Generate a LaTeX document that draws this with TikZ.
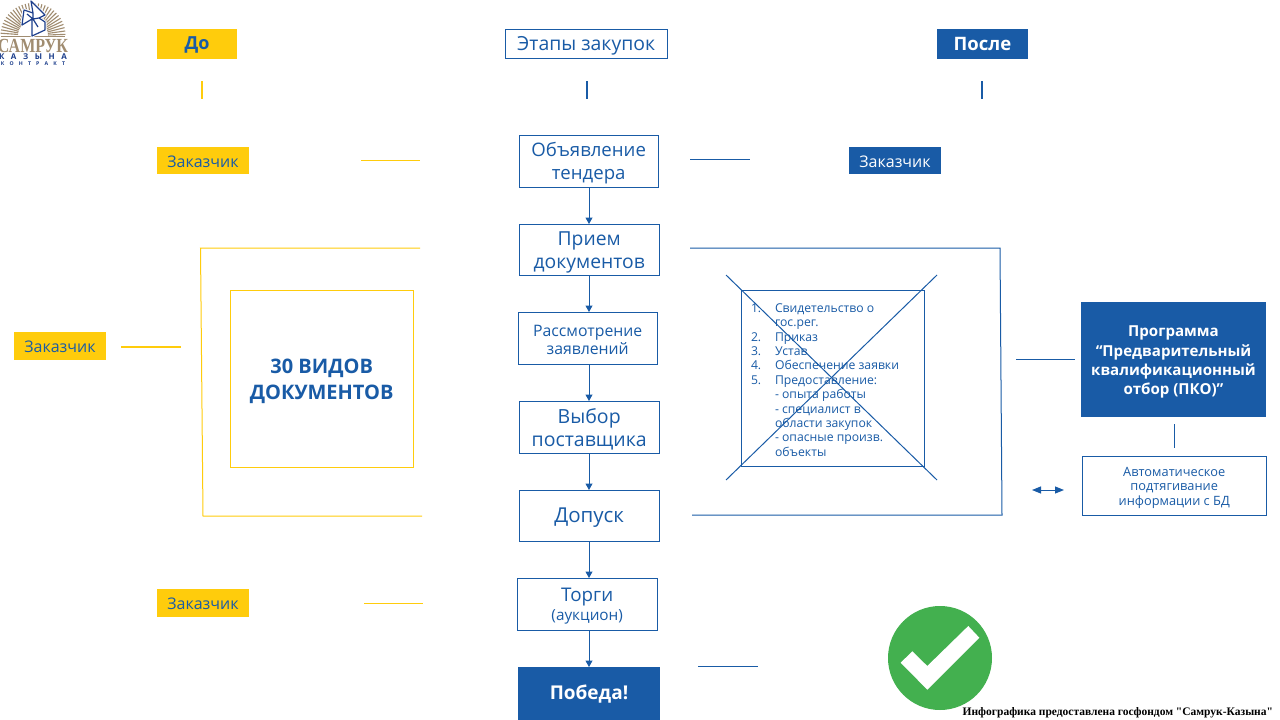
\documentclass[tikz,border=0pt]{standalone}
\usepackage{fontspec}
\setmainfont{Open Sans}
\newfontfamily\footfont{Liberation Serif}
\newfontfamily\logofont{Liberation Serif}
\usetikzlibrary{arrows.meta}
\definecolor{bluefill}{HTML}{195BA6}
\definecolor{yellowfill}{HTML}{FFCC0C}
\definecolor{tan}{HTML}{A08C70}
\definecolor{navy}{HTML}{1D3F8C}
\definecolor{grn}{HTML}{43B04F}
\newcommand{\fs}[1]{\fontsize{#1}{\dimexpr#1pt*12/10\relax}\selectfont}
\tikzset{
 x=1pt,y=-1pt,
 every node/.style={inner sep=0pt,outer sep=0pt,align=center},
 outbox/.style={draw=bluefill,line width=.9pt,text=bluefill,fill=white},
 solidblue/.style={fill=bluefill,text=white},
 solidyellow/.style={fill=yellowfill,text=bluefill},
 blueline/.style={draw=bluefill,line width=1pt},
 yellowline/.style={draw=yellowfill,line width=1pt},
 paleline/.style={draw=yellowfill,line width=1.4pt},
 flow/.style={blueline,-{Triangle[length=6.5pt,width=7pt]}},
 heavyline/.style={line width=1.6pt},
}
% outlined box: [text shift] name, style, x1,y1,x2,y2, text
\newcommand{\bx}[7][2pt]{%
 \node[#3,minimum width=#6pt-#4pt-.6pt,minimum height=#7pt-#5pt-.6pt] (#2) at ({(#4+#6)/2-.3},{(#5+#7)/2-.3}) {};
 \bxtext{#1}{#2}{#3}}
\newcommand{\bxtext}[4]{\node[#3,draw=none,fill=none] (#2text) at ([yshift=-#1]#2.center) {#4};}
% solid box: same, no trimming for a border
\newcommand{\sbx}[7][1pt]{%
 \node[#3,minimum width=#6pt-#4pt,minimum height=#7pt-#5pt] (#2) at ({(#4+#6)/2},{(#5+#7)/2}) {};
 \bxtext{#1}{#2}{#3}}
\begin{document}
\begin{tikzpicture}
\useasboundingbox (0,0) rectangle (1280,720);
\fill[white] (0,0) rectangle (1280,720);
% logo
\foreach \a in {2,8,...,178}{
 \draw[tan,line width=1.1pt] ({33+15*cos(\a)},{35.5-15*sin(\a)}) -- ({33+32.5*cos(\a)},{35.5-32.5*sin(\a)});
}
\draw[tan,line width=1.2pt] (1,36.8) -- (65,36.8);
\path[draw=white,line width=3pt,fill=white,line join=round]
 (31,1) -- (33,13) -- (24,10) -- (22,25) -- (32,19) -- (32,36) -- (45,30) -- (45,22) -- (39,18) -- (45,15) -- cycle;
\draw[navy,line width=1.2pt,line join=round]
 (31,1) -- (33,13) -- (24,10) -- (22,25) -- (32,19) -- (32,36) -- (45,30) -- (45,22) -- (39,18) -- (45,15) -- cycle
 (33,13) -- (33,19) -- (39,18) (27,14) -- (33,19) (33,19) -- (38,27);
\node[text=tan,font=\logofont\bfseries\fs{20}] (logo1) at (33,45.8) {\scalebox{.8}[1]{САМРУК}};
\node[text=navy,font=\bfseries\fs{8}] (logo2) at (33,56.3) {К\hspace{6.6pt}А\hspace{6.6pt}З\hspace{6.6pt}Ы\hspace{6.6pt}Н\hspace{6.6pt}А};
\node[text=navy,font=\bfseries\fs{5.2}] (logo3) at (33,64) {К\hspace{5.2pt}О\hspace{5.2pt}Н\hspace{5.2pt}Т\hspace{5.2pt}Р\hspace{5.2pt}А\hspace{5.2pt}К\hspace{5.2pt}Т};
% header
\sbx{hdo}{solidyellow,font=\bfseries\fs{18}}{157}{29}{237}{59}{До}
\bx{hetap}{outbox,font=\fs{19.4}}{505}{29}{668}{59}{Этапы закупок}
\sbx[0pt]{hposle}{solidblue,font=\bfseries\fs{18.5}}{937}{29}{1028}{59}{После}
\coordinate (t1) at (202,81); \coordinate (t2) at (202,99);
\coordinate (t3) at (587,81); \coordinate (t4) at (587,99);
\coordinate (t5) at (982,81); \coordinate (t6) at (982,99);
\draw[yellowline,heavyline] (t1) -- (t2);
\draw[blueline,heavyline] (t3) -- (t4);
\draw[blueline,heavyline] (t5) -- (t6);
% centre column
\bx{s1}{outbox,font=\fs{18.6}}{519}{135}{659}{188}{Объявление\\тендера}
\bx[3pt]{s2}{outbox,font=\fs{19.3}}{519}{224}{660}{276}{Прием\\документов}
\bx[1.5pt]{s3}{outbox,font=\fs{15.8}}{518}{312}{658}{365}{Рассмотрение\\[-1pt]заявлений}
\bx{s4}{outbox,font=\fs{19.5}}{519}{401}{660}{454}{Выбор\\поставщика}
\bx{s5}{outbox,font=\fs{20.5}}{519}{490}{660}{542}{Допуск}
\bx{s6}{outbox,font=\fs{18.8}}{517}{578}{658}{631}{Торги\\[-3pt]{\fs{15.3}(аукцион)}}
\sbx{s7}{solidblue,font=\bfseries\fs{19}}{518}{667}{660}{720}{Победа!}
\foreach \p/\q in {s1/s2,s2/s3,s3/s4,s4/s5,s5/s6,s6/s7}{
 \draw[flow] (\p.south -| 589,0) -- (\q.north -| 589,0);
}
% left
\sbx{zl1}{solidyellow,font=\fs{16}}{157}{147}{249}{174}{Заказчик}
\coordinate (a1) at (361,160); \coordinate (a2) at (420,160);
\draw[yellowline] (a1) -- (a2);
\coordinate (b1) at (420,248); \coordinate (b2) at (200.5,248); \coordinate (b3) at (203,516); \coordinate (b4) at (422,516);
\draw[yellowline] (b1) -- (b2) -- (b3) -- (b4);
\bx[3pt]{docs}{draw=yellowfill,line width=1pt,text=bluefill,font=\bfseries\fs{20}}{230}{290}{414}{468}{30 ВИДОВ\\[2pt]ДОКУМЕНТОВ}
\sbx{zl2}{solidyellow,font=\fs{16}}{14}{332}{106}{360}{Заказчик}
\coordinate (c1) at (121,347); \coordinate (c2) at (181,347);
\draw[paleline] (c1) -- (c2);
\sbx{zl3}{solidyellow,font=\fs{16}}{157}{589}{249}{617}{Заказчик}
\coordinate (d1) at (364,603.5); \coordinate (d2) at (423,603.5);
\draw[paleline] (d1) -- (d2);
% right
\coordinate (e1) at (690,159); \coordinate (e2) at (750,159);
\draw[blueline] (e1) -- (e2);
\sbx{zr1}{solidblue,font=\fs{16}}{849}{147}{941}{174}{Заказчик}
\coordinate (f1) at (690,248); \coordinate (f2) at (1000,248); \coordinate (f3) at (1002,515); \coordinate (f4) at (692,515);
\draw[blueline] (f1) -- (f2) -- (f3) -- (f4);
\bx{lst}{draw=bluefill,line width=.9pt}{741}{290}{925}{467}{}
\node[anchor=north west,align=left,text=bluefill,font=\fontsize{12.2}{14.4}\selectfont] (lsttext) at (751,303.5) {%
\makebox[24pt][l]{1.}Свидетельство о\\
\hspace*{24pt}гос.рег.\\
\makebox[24pt][l]{2.}Приказ\\
\makebox[24pt][l]{3.}Устав\\
\makebox[24pt][l]{4.}Обеспечение заявки\\
\makebox[24pt][l]{5.}Предоставление:\\
\hspace*{24pt}- опыта работы\\
\hspace*{24pt}- специалист в\\
\hspace*{24pt}области закупок\\
\hspace*{24pt}- опасные произв.\\
\hspace*{24pt}объекты};
\coordinate (g1) at (726,275); \coordinate (g2) at (937,480); \coordinate (g3) at (937,275); \coordinate (g4) at (726,480);
\draw[blueline] (g1) -- (g2);
\draw[blueline] (g3) -- (g4);
\coordinate (h1) at (1016,359.5); \coordinate (h2) at (1075,359.5);
\draw[blueline] (h1) -- (h2);
\sbx[2.5pt]{pko}{solidblue,font=\bfseries\fs{15.1}}{1081}{302}{1266}{417}{Программа\\[1pt]“Предварительный\\[1pt]квалификационный\\[1pt]отбор (ПКО)”}
\coordinate (i1) at (1174.5,424); \coordinate (i2) at (1174.5,448);
\draw[blueline] (i1) -- (i2);
\bx{auto}{outbox,font=\fs{12.8}}{1082}{456}{1267}{516}{Автоматическое\\[-1pt]подтягивание\\[-1pt]информации с БД}
\coordinate (j1) at (1032,490); \coordinate (j2) at (1064,490);
\draw[blueline,{Triangle[length=9pt,width=7pt]}-{Triangle[length=9pt,width=7pt]}] (j1) -- (j2);
\coordinate (k1) at (698,666); \coordinate (k2) at (758,666);
\draw[blueline] (k1) -- (k2);
% tick
\fill[grn] (940,658) circle (52);
\fill[white] (900.7,662.7) -- (912.3,651.3) -- (927.3,666) -- (968.3,626) -- (979.3,637.7) -- (927.3,689.7) -- cycle;
\node[anchor=base east,text=black,font=\footfont\bfseries\fs{11.5}] (foot) at (1273,715.5) {Инфографика предоставлена госфондом "Самрук-Казына"};
\end{tikzpicture}
\end{document}
